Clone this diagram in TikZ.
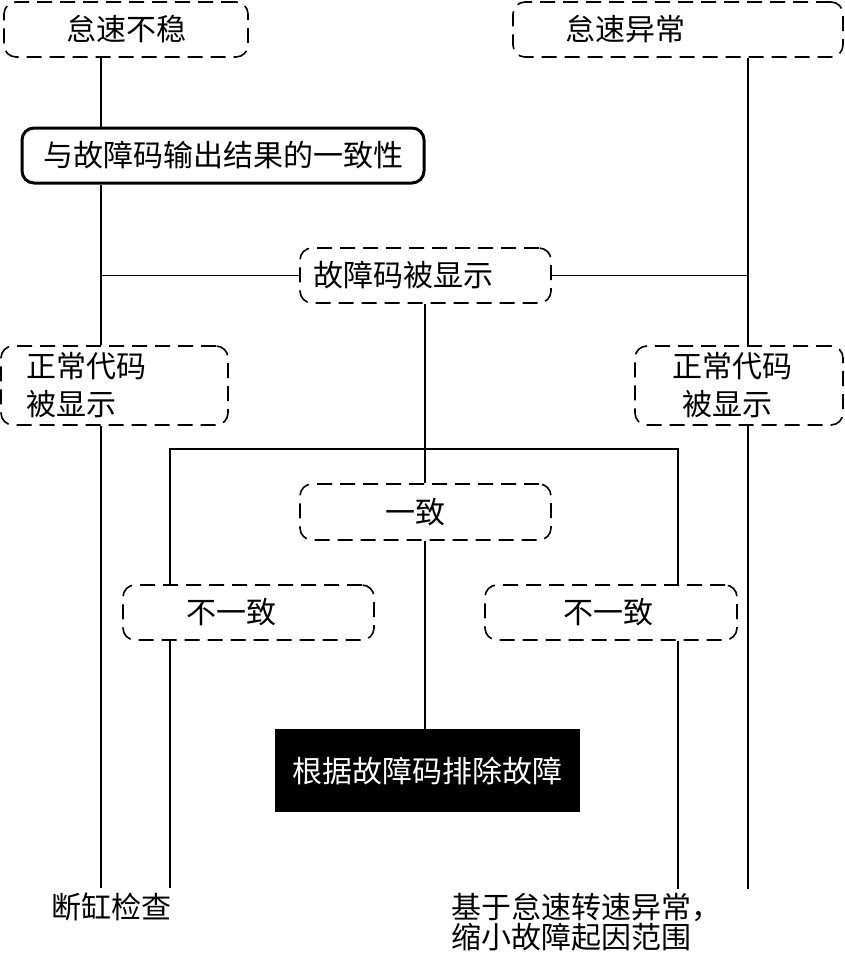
\documentclass[tikz,border=0pt]{standalone}
\usepackage{fontspec}
\newfontfamily\cjk{Noto Sans CJK SC}

\begin{document}
\begin{tikzpicture}[
  x=0.5pt, y=-0.5pt,
  every node/.style={font=\cjk\fontsize{15}{19}\selectfont, inner sep=0pt},
  dashbox/.style={draw, dash pattern=on 7.5pt off 4pt, line width=0.8pt,
    rounded corners=6pt, minimum height=27.5pt, align=left},
  boldbox/.style={draw, line width=1.5pt, rounded corners=6pt,
    minimum width=201pt, minimum height=27.5pt},
  blackbox/.style={fill=black, text=white, minimum width=152.5pt, minimum height=41.5pt},
  link/.style={line width=0.55pt}
]
  \useasboundingbox (0,0) rectangle (845,958);
  % columns of the connectors
  \coordinate (lx)  at (101,0);
  \coordinate (rx)  at (748,0);
  \coordinate (mx)  at (425,0);
  \coordinate (blx) at (170,0);
  \coordinate (brx) at (678,0);
  \coordinate (split) at (425,449);

  \node[dashbox, minimum width=122pt, align=center] (unstable) at (126,29.5) {怠速不稳};
  \node[dashbox, text width=113pt, inner xsep=26pt] (abnormal) at (678,29.5) {怠速异常};
  \node[boldbox] (consist) at (223,155.5) {与故障码输出结果的一致性};
  \node[dashbox, text width=112.5pt, inner xsep=6.5pt] (fault) at (425.5,275.5) {故障码被显示};
  \node[dashbox, text width=88.5pt, inner xsep=12.5pt, minimum height=39.5pt] (normL) at (114.5,385.5) {正常代码\\被显示};
  \node[dashbox, text width=67pt, inner xsep=18.5pt, minimum height=39.5pt] (normR) at (739,385.5) {正常代码\\\hspace*{5pt}被显示};
  \node[dashbox, text width=40.5pt, inner xsep=42.5pt, minimum height=28pt] (agree) at (425.5,512) {一致};
  \node[dashbox, text width=62.5pt, inner xsep=31.5pt] (disL) at (248.5,612.5) {不一致};
  \node[dashbox, text width=48pt, inner xsep=39pt] (disR) at (611,612.5) {不一致};
  \node[blackbox] (fix) at (427.5,770.5) {根据故障码排除故障};
  \node[anchor=north, inner sep=2pt] (check) at (111,888) {断缸检查};
  \node[anchor=north west, align=left, inner sep=2pt,
    font=\cjk\fontsize{15}{15}\selectfont] (narrow) at (447,889) {基于怠速转速异常，\\缩小故障起因范围};

  % left trunk
  \draw[link] (unstable.south -| lx) -- (consist.north -| lx);
  \draw[link] (consist.south -| lx) -- (normL.north -| lx);
  \draw[link] (normL.south -| lx) -- (check.north -| lx);
  \draw[link] (fault.west) -- (fault.west -| lx);
  % right trunk
  \draw[link] (abnormal.south -| rx) -- (normR.north -| rx);
  \draw[link] (normR.south -| rx) -- (narrow.north -| rx);
  \draw[link] (fault.east) -- (fault.east -| rx);
  % middle
  \draw[link] (fault.south -| mx) -- (agree.north -| mx);
  \draw[link] (agree.south -| mx) -- (fix.north -| mx);
  \draw[link] (disL.north -| blx) |- (split) -| (disR.north -| brx);
  \draw[link] (disL.south -| blx) -- (check.north -| blx);
  \draw[link] (disR.south -| brx) -- (narrow.north -| brx);
\end{tikzpicture}
\end{document}
